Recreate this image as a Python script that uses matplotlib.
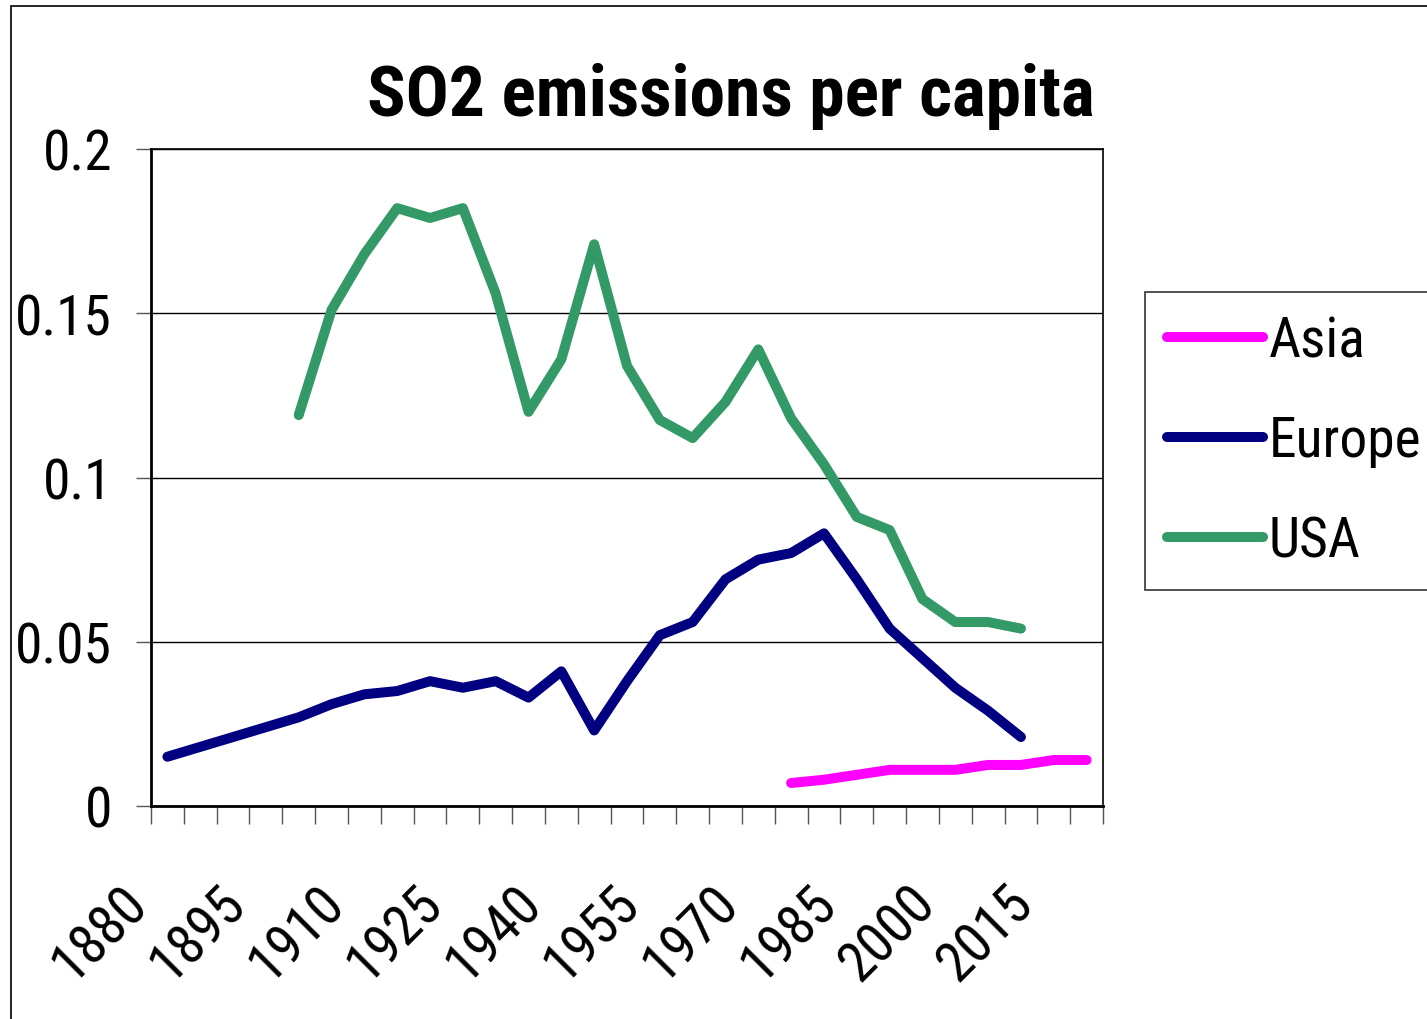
import numpy as np
import matplotlib
matplotlib.use("Agg")
import matplotlib.pyplot as plt
import matplotlib.font_manager as fm
from matplotlib.patches import Rectangle
from matplotlib.transforms import ScaledTranslation

nan = np.nan
years = list(range(1880, 2021, 5))
tick_labels = ["1880", "1895", "1910", "1925", "1940", "1955", "1970", "1985", "2000", "2015"]

asia = [nan]*19 + [0.007, 0.008, 0.0095, 0.011, 0.011, 0.011, 0.0125, 0.0125, 0.014, 0.014]
europe = [0.015, 0.018, 0.021, 0.024, 0.027, 0.031, 0.034, 0.035, 0.038, 0.036,
          0.038, 0.033, 0.041, 0.023, 0.038, 0.052, 0.056, 0.069, 0.075, 0.077,
          0.083, 0.069, 0.054, 0.045, 0.036, 0.029, 0.021, nan, nan]
usa = [nan]*4 + [0.119, 0.151, 0.168, 0.182, 0.179, 0.182, 0.156, 0.120, 0.136, 0.171,
                 0.134, 0.1175, 0.112, 0.123, 0.139, 0.118, 0.104, 0.088, 0.084, 0.063,
                 0.056, 0.056, 0.054, nan, nan]

avail = set(f.name for f in fm.fontManager.ttflist)
bold_avail = set(f.name for f in fm.fontManager.ttflist
                 if (isinstance(f.weight, int) and f.weight >= 700) or f.weight == 'bold')
prefs = ['Liberation Sans Narrow', 'Arial Narrow', 'Roboto Condensed', 'Archivo Narrow',
         'PT Sans Narrow', 'Liberation Sans']
chosen = [p for p in prefs if p in avail][0]
bprefs = ['Liberation Sans Narrow', 'Arial Narrow', 'Roboto Condensed', 'Archivo Narrow',
          'PT Sans Narrow', 'Liberation Sans']
bold_font = [p for p in bprefs if p in bold_avail][0]
plt.rcParams['font.family'] = [chosen, 'DejaVu Sans']

W, H = 1427, 1020
fig = plt.figure(figsize=(W/100, H/100), dpi=100)
fig.add_artist(Rectangle((11/W, -0.05), 1.1, 1 - 7/H + 0.05, transform=fig.transFigure,
                         fill=False, edgecolor='black', linewidth=1.2))

ax = fig.add_axes([151/W, 1 - 807/H, (1103-151)/W, (807-150)/H])
x = np.arange(len(years))
lw = 7.2
kw = dict(linewidth=lw, solid_capstyle='round', solid_joinstyle='round')
ax.plot(x, asia, color='#FF00FF', label='Asia', **kw)
ax.plot(x, europe, color='#000080', label='Europe', **kw)
ax.plot(x, usa, color='#339966', label='USA', **kw)

ax.set_xlim(-0.5, len(years) - 0.5)
ax.set_ylim(0, 0.2)
ax.set_yticks([0, 0.05, 0.1, 0.15, 0.2])
ax.set_yticklabels(["0", "0.05", "0.1", "0.15", "0.2"])
ax.yaxis.grid(True, color='black', linewidth=1)
ax.set_axisbelow(True)
ax.tick_params(axis='y', length=11, width=1, color='#555555', direction='out', pad=17, labelsize=40)

ax.set_xticks(np.arange(len(years) + 1) - 0.5)
ax.set_xticklabels([])
ax.tick_params(axis='x', length=13, width=1, color='#555555', direction='out')

tr = ax.get_xaxis_transform() + ScaledTranslation(-10/100, -69/100, fig.dpi_scale_trans)
for lab in tick_labels:
    i = years.index(int(lab))
    ax.text(i, 0, lab, transform=tr, rotation=45, ha='right', va='top', fontsize=40)

for s in ['left', 'bottom']:
    ax.spines[s].set_linewidth(2)
for s in ['top', 'right']:
    ax.spines[s].set_linewidth(1.2)

title = fig.text(731/W, 1 - 97/H, "SO2 emissions per capita", ha='center', va='center',
                 fontsize=57, fontweight='bold', family=[bold_font, 'DejaVu Sans'])
r = fig.canvas.get_renderer()
tw = title.get_window_extent(r).width
title.set_fontsize(57 * 727 / tw)

leg = fig.legend(loc='upper left', bbox_to_anchor=(1145/W, 1 - 293/H, (1445-1145)/W, 0),
                 mode='expand', fontsize=40, frameon=True, fancybox=False, shadow=False,
                 handlelength=1.72, handletextpad=0.1, borderpad=0.4, labelspacing=0.85,
                 borderaxespad=0)
leg.get_frame().set_edgecolor('black')
leg.get_frame().set_linewidth(1.2)
for h in leg.get_lines():
    h.set_linewidth(lw)
    h.set_solid_capstyle('round')

fig.savefig("out.png", dpi=100)
